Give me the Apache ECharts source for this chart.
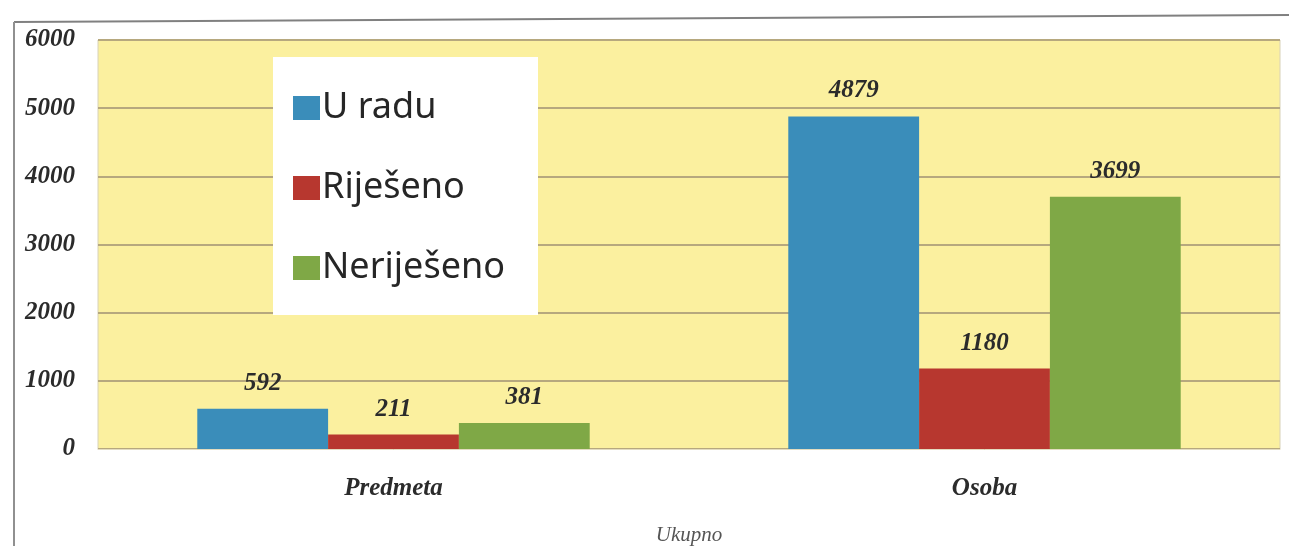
<!DOCTYPE html>
<html>
<head>
<meta charset="utf-8">
<script src="https://cdn.jsdelivr.net/npm/echarts@6/dist/echarts.min.js"></script>
<style>
    html, body { margin: 0; padding: 0; background: #fff; }
    #main { width: 1289px; height: 546px; }
</style>
</head>
<body>
<div id="main"></div>
<script>
// podaci
const categories = ['Predmeta', 'Osoba']
const uRadu = [592, 4879]
const rijeseno = [211, 1180]
const nerijeseno = [381, 3699]
const seriesNames = ['U radu', 'Riješeno', 'Neriješeno']

const serifLabel = {
    fontFamily: 'Liberation Serif',
    fontStyle: 'italic',
    fontWeight: 'bold',
    fontSize: 25,
    color: '#2b2b2b'
}

const barSeries = (name, data, color) => ({
    name: name,
    type: 'bar',
    data: data,
    barGap: '0%',
    barCategoryGap: '33.6%',
    itemStyle: { color: color },
    label: Object.assign({
        show: true,
        position: 'top',
        distance: 13
    }, serifLabel)
})

const chart = echarts.init(document.getElementById('main'))
chart.setOption({
    animation: false,
    grid: {
        left: 98,
        right: 9,
        top: 40,
        bottom: 97,
        outerBoundsMode: 'none',
        containLabel: false,
        show: true,
        backgroundColor: '#fbf09f',
        borderColor: '#d8d2b8',
        borderWidth: 1
    },
    legend: {
        orient: 'vertical',
        left: 288,
        top: 85,
        itemWidth: 27,
        itemHeight: 24,
        itemGap: 44,
        icon: 'rect',
        data: seriesNames,
        textStyle: {
            fontFamily: 'Noto Sans',
            fontSize: 36,
            color: '#262626',
            padding: [0, 0, 0, -3]
        }
    },
    xAxis: {
        type: 'category',
        data: categories,
        name: 'Ukupno',
        nameLocation: 'middle',
        nameGap: 76,
        nameTextStyle: {
            fontFamily: 'Liberation Serif',
            fontStyle: 'italic',
            fontSize: 21,
            color: '#555'
        },
        axisLine: { lineStyle: { color: '#e3dcc0' } },
        axisTick: { show: false },
        axisLabel: Object.assign({ margin: 27 }, serifLabel)
    },
    yAxis: {
        type: 'value',
        min: 0,
        max: 6000,
        interval: 1000,
        axisLine: { show: false },
        axisTick: { show: false },
        axisLabel: Object.assign({ margin: 23, formatter: v => String(v) }, serifLabel),
        splitLine: { lineStyle: { color: '#b6a87e', width: 2 } }
    },
    graphic: [
        // okvir skena
        { type: 'line', shape: { x1: 14, y1: 22, x2: 1289, y2: 15 }, style: { stroke: '#808080', lineWidth: 2 }, z: 10 },
        { type: 'line', shape: { x1: 14, y1: 22, x2: 14, y2: 546 }, style: { stroke: '#909090', lineWidth: 2 }, z: 10 },
        // bijela podloga legende
        { type: 'rect', shape: { x: 273, y: 57, width: 265, height: 258 }, style: { fill: '#ffffff' }, z: 1 }
    ],
    series: [
        barSeries(seriesNames[0], uRadu, '#3a8dba'),
        barSeries(seriesNames[1], rijeseno, '#b7372f'),
        barSeries(seriesNames[2], nerijeseno, '#7fa846')
    ]
})
</script>
</body>
</html>
